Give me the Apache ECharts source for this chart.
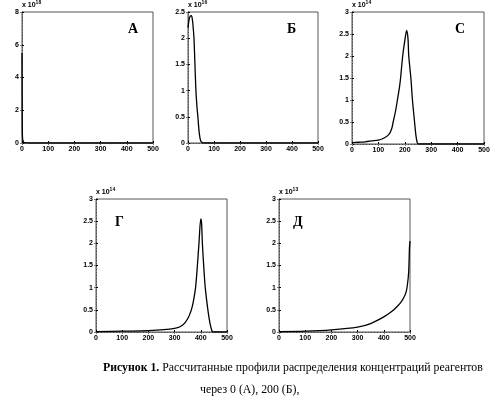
<!DOCTYPE html>
<html>
<head>
<meta charset="utf-8">
<script src="https://cdn.jsdelivr.net/npm/echarts@6/dist/echarts.min.js"></script>
<style>
  html, body { margin: 0; padding: 0; background: #fff; }
  #main { width: 500px; height: 410px; }
</style>
</head>
<body>
<div id="main"></div>
<script>
var chart = echarts.init(document.getElementById('main'));

// x positions and concentration values (scaled by the power shown above each plot)
var xA = [0, 1, 2, 4, 6, 10, 30, 100, 200, 300, 400, 500];
var yA = [5.5, 1.0, 0.3, 0.12, 0.05, 0.02, 0, 0, 0, 0, 0, 0];

var xB = [0, 4, 8, 13, 17, 20, 23, 26, 30, 34, 38, 42, 46, 50, 55, 60, 100, 200, 300, 400, 500];
var yB = [2.2, 2.35, 2.42, 2.43, 2.35, 2.2, 2.0, 1.6, 1.05, 0.72, 0.5, 0.25, 0.1, 0.03, 0.01, 0, 0, 0, 0, 0, 0];

var xC = [0, 25, 50, 75, 100, 120, 140, 150, 156, 165, 172, 180, 184, 192, 200, 207, 212, 215, 223, 229, 237, 242, 247, 252, 300, 400, 500];
var yC = [0.03, 0.04, 0.05, 0.07, 0.09, 0.13, 0.22, 0.34, 0.5, 0.75, 1.0, 1.3, 1.5, 2.0, 2.35, 2.58, 2.4, 2.0, 1.5, 1.0, 0.5, 0.2, 0.03, 0, 0, 0, 0];

var xG = [0, 100, 200, 300, 330, 350, 364, 372, 380, 387, 393, 400, 403, 406, 411, 417, 427, 435, 443, 450, 500];
var yG = [0.01, 0.02, 0.03, 0.08, 0.15, 0.3, 0.5, 0.7, 1.0, 1.5, 2.0, 2.55, 2.45, 2.0, 1.5, 1.0, 0.5, 0.2, 0.02, 0, 0];

var xD = [0, 100, 200, 300, 350, 400, 430, 450, 465, 475, 485, 490, 495, 498, 500];
var yD = [0.01, 0.02, 0.05, 0.11, 0.19, 0.34, 0.46, 0.57, 0.67, 0.76, 0.9, 1.06, 1.36, 1.9, 2.05];

var xTicks = [0, 100, 200, 300, 400, 500];
var panelNames = ['А', 'Б', 'С', 'Г', 'Д'];
var exponents = ['18', '16', '14', '14', '13'];
var yMax = [8, 2.5, 3, 3, 3];
var yStep = [2, 0.5, 0.5, 0.5, 0.5];

function zip(xs, ys) {
  return xs.map(function (x, i) { return [x, ys[i]]; });
}
var seriesData = [zip(xA, yA), zip(xB, yB), zip(xC, yC), zip(xG, yG), zip(xD, yD)];

var boxes = [
  {left: 22, top: 12, width: 131, height: 131},
  {left: 188, top: 12, width: 130, height: 131},
  {left: 352, top: 12, width: 132, height: 132},
  {left: 96, top: 199, width: 131, height: 133},
  {left: 279, top: 199, width: 131, height: 133}
];
var labelPos = [[128, 22], [287, 22], [455, 22], [115, 215], [293, 215]];

var tickFont = {fontSize: 7, fontWeight: 'bold', color: '#000', fontFamily: 'Liberation Sans'};
var grid = [], xAxis = [], yAxis = [], series = [], graphic = [];

boxes.forEach(function (b, i) {
  grid.push({left: b.left, top: b.top, width: b.width, height: b.height, show: true,
    borderColor: '#555', borderWidth: 1, backgroundColor: '#fff'});
  // bottom and top x axes
  xAxis.push({type: 'value', gridIndex: i, min: 0, max: 500, interval: 100,
    axisLine: {lineStyle: {color: '#000', width: 1}},
    axisTick: {inside: true, length: 2, lineStyle: {color: '#000'}},
    axisLabel: Object.assign({margin: 3}, tickFont),
    splitLine: {show: false}});
  xAxis.push({type: 'value', gridIndex: i, position: 'top', min: 0, max: 500, interval: 100,
    axisLine: {lineStyle: {color: '#777', width: 1, type: [2, 1]}},
    axisTick: {inside: true, length: 2, lineStyle: {color: '#777'}},
    axisLabel: {show: false}, splitLine: {show: false}});
  // left and right y axes
  yAxis.push({type: 'value', gridIndex: i, min: 0, max: yMax[i], interval: yStep[i],
    name: 'x 10{s|' + exponents[i] + '}', nameLocation: 'end', nameGap: 2,
    nameTextStyle: {align: 'left', fontSize: 7, fontWeight: 'bold', color: '#000',
      fontFamily: 'Liberation Sans', padding: [0, 0, 0, 0],
      rich: {s: {fontSize: 5, fontWeight: 'bold', verticalAlign: 'top', padding: [0, 0, 5, 0]}}},
    axisLine: {lineStyle: {color: '#000', width: 1}},
    axisTick: {inside: true, length: 2, lineStyle: {color: '#000'}},
    axisLabel: Object.assign({margin: 3}, tickFont),
    splitLine: {show: false}});
  yAxis.push({type: 'value', gridIndex: i, position: 'right', min: 0, max: yMax[i], interval: yStep[i],
    axisLine: {lineStyle: {color: '#777', width: 1, type: [2, 1]}},
    axisTick: {inside: true, length: 2, lineStyle: {color: '#777'}},
    axisLabel: {show: false}, splitLine: {show: false}});
  series.push({type: 'line', xAxisIndex: 2 * i, yAxisIndex: 2 * i, data: seriesData[i],
    showSymbol: false, smooth: 0.3, lineStyle: {color: '#000', width: 1.3}, silent: true});
  graphic.push({type: 'text', left: labelPos[i][0], top: labelPos[i][1],
    style: {text: panelNames[i], font: 'bold 14px "Liberation Serif"', fill: '#000'}});
});

graphic.push({type: 'text', left: 103, top: 362,
  style: {rich: {b: {font: 'bold 11.8px "Liberation Serif"', fill: '#000'},
                 n: {font: '11.8px "Liberation Serif"', fill: '#000'}},
          text: '{b|Рисунок 1.}{n| Рассчитанные профили распределения концентраций реагентов}'}});
graphic.push({type: 'text', left: 200, top: 384,
  style: {text: 'через 0 (А), 200 (Б),', font: '11.8px "Liberation Serif"', fill: '#000'}});

var option = {
  animation: false,
  grid: grid,
  xAxis: xAxis,
  yAxis: yAxis,
  series: series,
  graphic: graphic
};

chart.setOption(option);
</script>
</body>
</html>
